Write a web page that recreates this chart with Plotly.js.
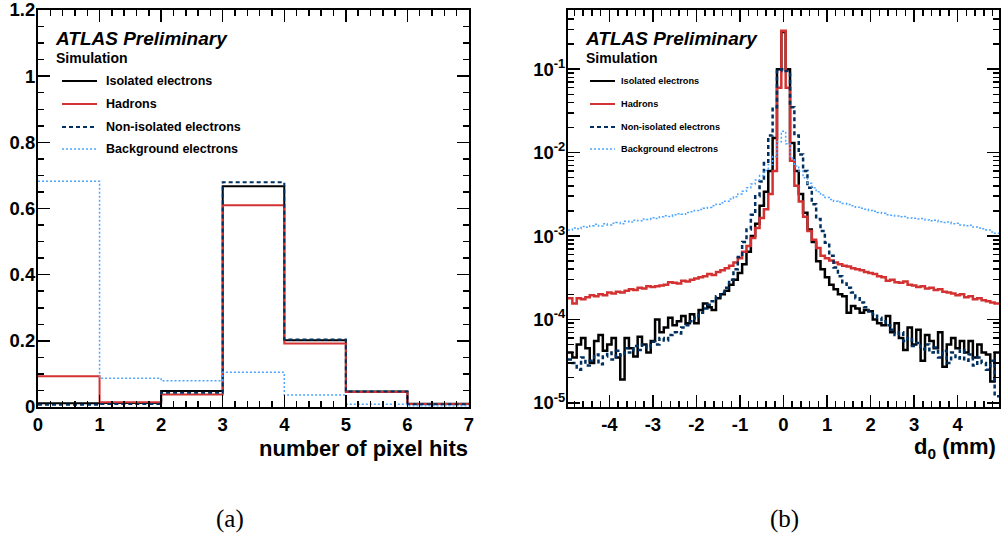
<!DOCTYPE html>
<html>
<head>
<meta charset="utf-8">
<script src="https://cdn.plot.ly/plotly-3.0.1.min.js"></script>
<style>
  html, body { margin: 0; padding: 0; background: #fff; }
  #chart { width: 1005px; height: 540px; }
</style>
</head>
<body>
<div id="chart"></div>
<script>
// ---------------- Data: (a) number of pixel hits ----------------
const pixHitEdges = [0, 1, 2, 3, 4, 5, 6, 7];
const isoPix    = [0.011, 0.012, 0.048, 0.667, 0.202, 0.047, 0.010];
const hadPix    = [0.093, 0.014, 0.038, 0.610, 0.192, 0.045, 0.009];
const nonIsoPix = [0.007, 0.009, 0.043, 0.679, 0.204, 0.047, 0.008];
const bkgPix    = [0.682, 0.087, 0.079, 0.105, 0.036, 0.008, 0.004];

// ---------------- Data: (b) d0 (mm), bins of 0.1 mm from -4.95 to 4.95 ----------------
const d0BinLow = -4.95;
const d0BinWidth = 0.1;

const isoD0 = [
  4.0e-5, 3.5e-5, 5.0e-5, 6.0e-5, 4.5e-5, 3.0e-5, 5.5e-5, 6.5e-5, 4.2e-5, 5.0e-5,
  6.0e-5, 3.5e-5, 1.9e-5, 6.0e-5, 4.5e-5, 3.6e-5, 6.2e-5, 5.0e-5, 4.0e-5, 5.5e-5,
  1.0e-4, 7.0e-5, 8.0e-5, 1.05e-4, 8.5e-5, 9.5e-5, 1.1e-4, 9.0e-5, 1.15e-4, 9.0e-5,
  1.3e-4, 1.55e-4, 1.4e-4, 1.3e-4, 1.8e-4, 2.0e-4, 2.2e-4, 2.6e-4, 3.0e-4, 3.6e-4,
  4.6e-4, 6.5e-4, 1.0e-3, 1.4e-3, 2.3e-3, 3.4e-3, 6.0e-3, 0.015, 0.1,
  0.28,
  0.1, 0.013, 6.0e-3, 3.2e-3, 1.9e-3, 1.2e-3, 8.5e-4, 5.0e-4, 4.0e-4, 3.2e-4,
  2.6e-4, 2.3e-4, 2.0e-4, 1.9e-4, 1.2e-4, 1.45e-4, 1.35e-4, 1.2e-4, 1.3e-4, 1.25e-4,
  1.0e-4, 9.0e-5, 8.5e-5, 1.1e-4, 7.0e-5, 9.0e-5, 6.0e-5, 4.3e-5, 8.0e-5, 5.0e-5,
  7.5e-5, 3.2e-5, 6.5e-5, 5.5e-5, 4.5e-5, 7.0e-5, 2.7e-5, 5.0e-5, 6.0e-5, 4.5e-5,
  5.5e-5, 4.0e-5, 5.5e-5, 3.5e-5, 5.0e-5, 4.0e-5, 3.8e-5, 1.8e-5, 4.0e-5
];

const hadD0 = [
  1.8e-4, 1.55e-4, 1.8e-4, 1.75e-4, 1.85e-4, 1.95e-4, 1.9e-4, 2.0e-4, 1.95e-4, 2.1e-4,
  2.05e-4, 2.15e-4, 2.1e-4, 2.2e-4, 2.3e-4, 2.25e-4, 2.4e-4, 2.35e-4, 2.5e-4, 2.45e-4,
  2.5e-4, 2.55e-4, 2.6e-4, 2.8e-4, 2.75e-4, 2.7e-4, 2.9e-4, 2.85e-4, 3.0e-4, 3.1e-4,
  3.2e-4, 3.3e-4, 3.5e-4, 3.4e-4, 3.7e-4, 3.9e-4, 4.1e-4, 4.4e-4, 4.8e-4, 5.4e-4,
  6.5e-4, 7.6e-4, 9.5e-4, 1.25e-3, 1.65e-3, 2.1e-3, 3.2e-3, 6.0e-3, 0.06,
  0.29,
  0.06, 8.0e-3, 4.0e-3, 2.6e-3, 1.7e-3, 1.15e-3, 9.0e-4, 7.2e-4, 5.8e-4, 5.4e-4,
  5.1e-4, 4.8e-4, 4.6e-4, 4.4e-4, 4.3e-4, 4.1e-4, 4.0e-4, 3.9e-4, 3.7e-4, 3.6e-4,
  3.5e-4, 3.3e-4, 3.2e-4, 2.9e-4, 3.0e-4, 2.8e-4, 2.75e-4, 2.85e-4, 2.6e-4, 2.55e-4,
  2.45e-4, 2.5e-4, 2.35e-4, 2.4e-4, 2.25e-4, 2.3e-4, 2.15e-4, 2.1e-4, 2.05e-4, 1.95e-4,
  2.0e-4, 1.85e-4, 1.9e-4, 1.75e-4, 1.8e-4, 1.7e-4, 1.65e-4, 1.6e-4, 1.55e-4
];

const nonIsoD0 = [
  3.3e-5, 3.0e-5, 2.5e-5, 3.5e-5, 2.8e-5, 3.2e-5, 3.8e-5, 2.9e-5, 3.6e-5, 4.0e-5,
  3.3e-5, 4.2e-5, 3.7e-5, 4.5e-5, 4.0e-5, 4.8e-5, 4.3e-5, 5.0e-5, 4.6e-5, 5.4e-5,
  5.0e-5, 6.0e-5, 5.6e-5, 6.5e-5, 7.0e-5, 6.8e-5, 8.0e-5, 8.5e-5, 9.5e-5, 1.05e-4,
  1.2e-4, 1.35e-4, 1.5e-4, 1.65e-4, 1.9e-4, 2.1e-4, 2.4e-4, 3.0e-4, 4.0e-4, 5.6e-4,
  8.5e-4, 1.2e-3, 1.8e-3, 3.0e-3, 4.5e-3, 7.5e-3, 0.016, 0.035, 0.095,
  0.1,
  0.095, 0.035, 0.016, 9.5e-3, 6.0e-3, 3.8e-3, 2.4e-3, 1.6e-3, 1.15e-3, 8.3e-4,
  5.8e-4, 4.2e-4, 3.3e-4, 2.7e-4, 2.4e-4, 2.1e-4, 1.8e-4, 1.6e-4, 1.4e-4, 1.25e-4,
  1.15e-4, 1.05e-4, 9.5e-5, 8.5e-5, 7.5e-5, 6.5e-5, 7.0e-5, 5.5e-5, 6.0e-5, 4.8e-5,
  5.2e-5, 4.4e-5, 5.0e-5, 4.0e-5, 4.6e-5, 3.5e-5, 4.2e-5, 3.0e-5, 4.0e-5, 3.4e-5,
  4.3e-5, 3.2e-5, 3.8e-5, 2.8e-5, 3.5e-5, 3.0e-5, 2.5e-5, 3.2e-5, 1.2e-5
];

const bkgD0 = [
  1.18e-3, 1.25e-3, 1.22e-3, 1.3e-3, 1.27e-3, 1.33e-3, 1.38e-3, 1.32e-3, 1.4e-3, 1.36e-3,
  1.42e-3, 1.45e-3, 1.4e-3, 1.5e-3, 1.47e-3, 1.55e-3, 1.52e-3, 1.6e-3, 1.58e-3, 1.66e-3,
  1.62e-3, 1.7e-3, 1.75e-3, 1.72e-3, 1.8e-3, 1.85e-3, 1.82e-3, 1.92e-3, 1.95e-3, 2.02e-3,
  2.08e-3, 2.15e-3, 2.2e-3, 2.3e-3, 2.4e-3, 2.5e-3, 2.62e-3, 2.78e-3, 2.95e-3, 3.2e-3,
  3.45e-3, 3.8e-3, 4.2e-3, 4.7e-3, 5.3e-3, 6.1e-3, 7.2e-3, 9.0e-3, 0.0135,
  0.018,
  0.0128, 8.6e-3, 6.9e-3, 6.0e-3, 5.0e-3, 4.3e-3, 3.8e-3, 3.4e-3, 3.1e-3, 2.9e-3,
  2.75e-3, 2.62e-3, 2.55e-3, 2.45e-3, 2.38e-3, 2.3e-3, 2.22e-3, 2.15e-3, 2.1e-3, 2.03e-3,
  1.98e-3, 1.92e-3, 1.87e-3, 1.8e-3, 1.78e-3, 1.74e-3, 1.7e-3, 1.72e-3, 1.65e-3, 1.63e-3,
  1.6e-3, 1.62e-3, 1.56e-3, 1.52e-3, 1.55e-3, 1.48e-3, 1.45e-3, 1.47e-3, 1.4e-3, 1.42e-3,
  1.36e-3, 1.33e-3, 1.35e-3, 1.28e-3, 1.25e-3, 1.22e-3, 1.18e-3, 1.12e-3, 1.08e-3
];

const seriesNames = ['Isolated electrons', 'Hadrons', 'Non-isolated electrons', 'Background electrons'];
const d0TickVals = [-4, -3, -2, -1, 0, 1, 2, 3, 4];
const d0TickText = ['-4', '-3', '-2', '-1', '0', '1', '2', '3', '4'];
const logTickVals = [1e-5, 1e-4, 1e-3, 1e-2, 1e-1];
const logTickText = ['10<sup>-5</sup>', '10<sup>-4</sup>', '10<sup>-3</sup>', '10<sup>-2</sup>', '10<sup>-1</sup>'];

// ---------------- Helpers ----------------
const W = 1005, H = 540;
function step(edges, vals) { return { x: edges.slice(), y: vals.concat([vals[vals.length - 1]]) }; }
const d0Edges = [];
for (let i = 0; i <= isoD0.length; i++) d0Edges.push(+(d0BinLow + i * d0BinWidth).toFixed(3));

const styles = [
  { color: '#000000', dash: 'solid' },
  { color: '#d43232', dash: 'solid' },
  { color: '#00305f', dash: '4px,3px' },
  { color: '#4ea6ff', dash: '2px,2px' }
];
const widthsA = [2, 2, 2, 1.5];
const widthsB = [2.5, 2.5, 2.5, 1.5];

const traces = [];
[isoPix, hadPix, nonIsoPix, bkgPix].forEach((v, k) => {
  const s = step(pixHitEdges, v);
  traces.push({ x: s.x, y: s.y, type: 'scatter', mode: 'lines', line: { shape: 'hv', color: styles[k].color, dash: styles[k].dash, width: widthsA[k] }, name: seriesNames[k], xaxis: 'x', yaxis: 'y', showlegend: false, hoverinfo: 'skip' });
});
[isoD0, hadD0, nonIsoD0, bkgD0].forEach((v, k) => {
  const s = step(d0Edges, v);
  traces.push({ x: s.x, y: s.y, type: 'scatter', mode: 'lines', line: { shape: 'hv', color: styles[k].color, dash: styles[k].dash, width: widthsB[k] }, name: seriesNames[k], xaxis: 'x2', yaxis: 'y2', showlegend: false, hoverinfo: 'skip' });
});

// minor log ticks
const logMinor = [];
for (let e = -6; e <= 0; e++) for (let m = 2; m <= 9; m++) logMinor.push(m * Math.pow(10, e));

const FONT = 'Liberation Sans, Arial, Helvetica, sans-serif';
const tickFont = { family: FONT, size: 18.5, color: '#000', weight: 'bold' };

const axisCommon = {
  showline: true, linecolor: '#000', linewidth: 2, mirror: 'allticks',
  ticks: 'inside', ticklen: 12, tickwidth: 1.5, tickcolor: '#000',
  showgrid: false, zeroline: false, tickfont: tickFont, fixedrange: true,
  ticklabeloverflow: 'allow'
};

const yDom = [1 - 407 / H, 1 - 10 / H];
const layout = {
  width: W, height: H,
  margin: { l: 0, r: 0, t: 0, b: 0 },
  paper_bgcolor: '#fff', plot_bgcolor: '#fff',
  showlegend: false,
  xaxis: Object.assign({}, axisCommon, {
    domain: [38 / W, 469 / W], range: [0, 7], tickmode: 'linear', tick0: 0, dtick: 1,
    minor: { tickmode: 'linear', tick0: 0, dtick: 0.2, ticklen: 6, tickwidth: 1.5, ticks: 'inside', tickcolor: '#000', showgrid: false },
    anchor: 'y'
  }),
  yaxis: Object.assign({}, axisCommon, {
    domain: yDom, range: [0, 1.2], tickmode: 'linear', tick0: 0, dtick: 0.2, ticklabelstandoff: -3,
    minor: { tickmode: 'linear', tick0: 0, dtick: 0.05, ticklen: 6, tickwidth: 1.5, ticks: 'inside', tickcolor: '#000', showgrid: false },
    anchor: 'x'
  }),
  xaxis2: Object.assign({}, axisCommon, {
    domain: [568 / W, 999 / W], range: [-4.95, 4.95], tickmode: 'array', tickvals: d0TickVals, ticktext: d0TickText,
    minor: { tickmode: 'linear', tick0: 0, dtick: 0.2, ticklen: 6, tickwidth: 1.5, ticks: 'inside', tickcolor: '#000', showgrid: false },
    anchor: 'y2'
  }),
  yaxis2: Object.assign({}, axisCommon, {
    domain: yDom, type: 'log', range: [-5.05, -0.29], tickmode: 'array', tickvals: logTickVals, ticktext: logTickText, ticklabelstandoff: -3,
    minor: { tickmode: 'array', tickvals: logMinor, ticklen: 6, tickwidth: 1.5, ticks: 'inside', tickcolor: '#000', showgrid: false },
    anchor: 'x2'
  }),
  annotations: [],
  shapes: []
};

function ann(text, px, py, size, opts) {
  layout.annotations.push(Object.assign({
    text: text, xref: 'paper', yref: 'paper', x: px / W, y: 1 - py / H,
    xanchor: 'left', yanchor: 'middle', showarrow: false,
    font: { family: FONT, size: size, color: '#000', weight: 'bold' }
  }, opts || {}));
}

// ATLAS labels
ann('<i>ATLAS Preliminary</i>', 53, 39, 19);
ann('Simulation', 54, 58, 14);
ann('<i>ATLAS Preliminary</i>', 583, 39, 19);
ann('Simulation', 584, 58, 14);

// Legends (sample line + label)
const legY = [81, 104, 127, 149];
seriesNames.forEach((nm, k) => {
  ann(nm, 104, legY[k], 12.5);
  ann(nm, 619, legY[k], 9.2);
  layout.shapes.push({ type: 'line', xref: 'paper', yref: 'paper', x0: 62 / W, x1: 97 / W, y0: 1 - legY[k] / H, y1: 1 - legY[k] / H, line: { color: styles[k].color, dash: styles[k].dash, width: widthsA[k] } });
  layout.shapes.push({ type: 'line', xref: 'paper', yref: 'paper', x0: 590 / W, x1: 615 / W, y0: 1 - legY[k] / H, y1: 1 - legY[k] / H, line: { color: styles[k].color, dash: styles[k].dash, width: widthsA[k] } });
});

// Axis titles (right aligned, ROOT style)
ann('number of pixel hits', 470, 448, 22, { xanchor: 'right' });
ann('d<sub>0</sub> (mm)', 998, 448, 22, { xanchor: 'right' });

// Sub-figure captions
ann('(a)', 230, 519, 25, { xanchor: 'center', font: { family: 'Liberation Serif, DejaVu Serif, serif', size: 25, color: '#000' } });
ann('(b)', 784, 519, 25, { xanchor: 'center', font: { family: 'Liberation Serif, DejaVu Serif, serif', size: 25, color: '#000' } });

Plotly.newPlot('chart', traces, layout, { staticPlot: true, displayModeBar: false });
</script>
</body>
</html>
